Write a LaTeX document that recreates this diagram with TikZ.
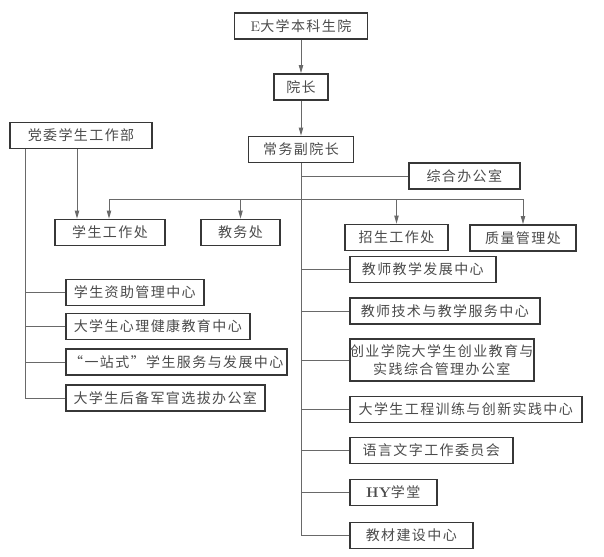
\documentclass[tikz,border=0pt]{standalone}
\usepackage{fontspec}
\newfontfamily\cjkfont[LetterSpace=10]{Noto Sans CJK SC}
\usetikzlibrary{arrows.meta}
\definecolor{boxgray}{RGB}{55,55,55}
\definecolor{linegray}{RGB}{105,105,105}
\tikzset{every picture/.style={line width=0.75pt}}
\tikzset{
  unit/.style={draw=boxgray, line width=1.2pt, text=boxgray!90, font=\cjkfont\fontsize{10.5}{13.5}\selectfont,
    inner sep=0pt, minimum height=19.5pt, minimum width=#1*0.75pt},
  link/.style={draw=linegray, line width=0.75pt},
  arr/.style={-{Triangle[length=6pt,width=3.2pt]}}
}

\begin{document}
\begin{tikzpicture}[x=0.75pt,y=0.75pt,yscale=-1,xscale=1]
    \useasboundingbox (0,0) rectangle (604,557);

    %Top of the chart
    \node[unit=133] (top) at (301,26) {{\rmfamily E}大学本科生院};
    \node[unit=54] (dean) at (301,87) {院长};
    \node[unit=105] (vp) at (301,149.5) {常务副院长};
    \node[unit=142] (party) at (81,135.5) {党委学生工作部};
    \node[unit=111, anchor=west] (office) at (408,176) {综合办公室};

    %Second row
    \node[unit=110] (xs) at (110,232.5) {学生工作处};
    \node[unit=79] (jw) at (240.5,232.5) {教务处};
    \node[unit=103] (zs) at (396.5,237.5) {招生工作处};
    \node[unit=106] (zl) at (523,238) {质量管理处};

    %Right column
    \node[unit=146, anchor=west] (fz) at (349,269.5) {教师教学发展中心};
    \node[unit=190, anchor=west] (fw) at (349,311) {教师技术与教学服务中心};
    \node[unit=184, anchor=west, minimum height=31.5pt, align=center] (cy) at (349,360) {创业学院大学生创业教育与\\实践综合管理办公室};
    \node[unit=232, anchor=west] (gc) at (349,409.5) {大学生工程训练与创新实践中心};
    \node[unit=163, anchor=west] (yy) at (349,450.5) {语言文字工作委员会};
    \node[unit=87, anchor=west] (hy) at (349,492.5) {{\rmfamily\bfseries HY}学堂};
    \node[unit=123, anchor=west] (jc) at (349,535.5) {教材建设中心};

    %Left column
    \node[unit=138, anchor=west] (zz) at (65,292.5) {学生资助管理中心};
    \node[unit=184, anchor=west] (xl) at (65,326.5) {大学生心理健康教育中心};
    \node[unit=221, anchor=west] (yz) at (65,362) {“一站式”学生服务与发展中心};
    \node[unit=199, anchor=west] (hb) at (65,398) {大学生后备军官选拔办公室};

    %Connectors
    \draw[link,arr] (top) -- (dean);
    \draw[link,arr] (dean) -- (vp);
    \foreach \n in {office,fz,fw,cy,gc,yy,hy,jc}
      \draw[link] (vp.south) |- (\n.west);

    \coordinate (barL) at (109,199);
    \coordinate (barR) at (523,199);
    \draw[link] (barL) -- (barR);
    \draw[link,arr] (barL) -- (barL |- xs.north);
    \draw[link,arr] (jw.north |- barL) -- (jw.north);
    \draw[link,arr] (zs.north |- barL) -- (zs.north);
    \draw[link,arr] (barR) -- (zl.north);

    \draw[link,arr] ([xshift=-3pt]party.south) -- ([xshift=-3pt]party.south |- xs.north);
    \coordinate (pL) at ([xshift=12pt]party.south west);
    \foreach \n in {zz,xl,yz,hb}
      \draw[link] (pL) |- (\n.west);

  \end{tikzpicture}
\end{document}
